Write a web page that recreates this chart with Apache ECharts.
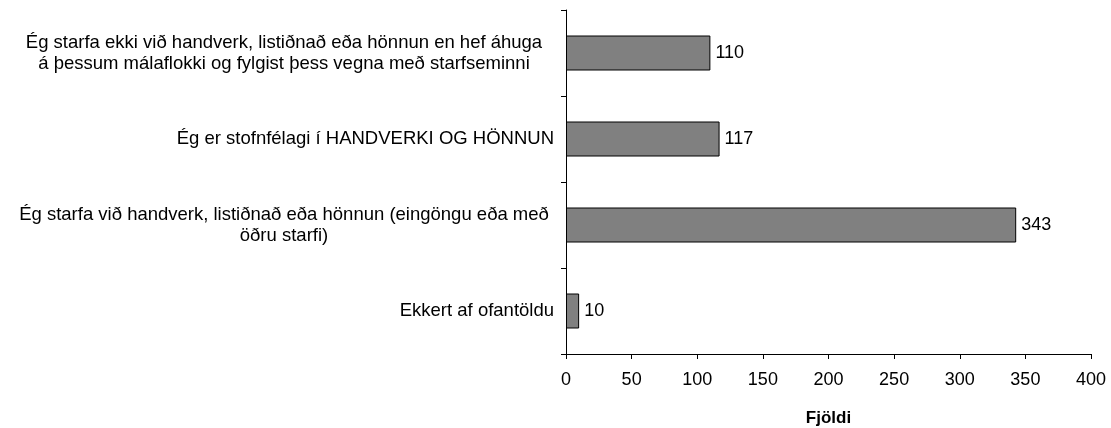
<!DOCTYPE html>
<html>
<head>
<meta charset="utf-8">
<script src="https://cdn.jsdelivr.net/npm/echarts@6/dist/echarts.min.js"></script>
<style>
  html, body { margin: 0; padding: 0; background: #fff; }
  #chart { width: 1111px; height: 428px; }
</style>
</head>
<body>
<div id="chart"></div>
<script>
// flokkar, efst til neðst
const categories = [
  'Ég starfa ekki við handverk, listiðnað eða hönnun en hef áhuga\ná þessum málaflokki og fylgist þess vegna með starfseminni',
  'Ég er stofnfélagi í HANDVERKI OG HÖNNUN',
  'Ég starfa við handverk, listiðnað eða hönnun (eingöngu eða með\nöðru starfi)',
  'Ekkert af ofantöldu'
];
const values = [110, 117, 343, 10];
const xTicks = { min: 0, max: 400, interval: 50 };

const font = 'Liberation Sans, Arial, sans-serif';
const chart = echarts.init(document.getElementById('chart'));

chart.setOption({
  animation: false,
  grid: { left: 566, right: 20, top: 10, bottom: 74, containLabel: false, outerBoundsMode: 'none' },
  xAxis: {
    type: 'value',
    min: xTicks.min,
    max: xTicks.max,
    interval: xTicks.interval,
    name: 'Fjöldi',
    nameLocation: 'middle',
    nameGap: 56,
    nameTextStyle: { fontFamily: font, fontSize: 17, fontWeight: 'bold', color: '#000' },
    axisLine: { show: true, lineStyle: { color: '#000', width: 1 } },
    axisTick: { show: true, length: 5, lineStyle: { color: '#000' } },
    axisLabel: { fontFamily: font, fontSize: 18, color: '#000', margin: 17 },
    splitLine: { show: false }
  },
  yAxis: {
    type: 'category',
    inverse: true,
    data: categories,
    axisLine: { show: true, lineStyle: { color: '#000', width: 1 } },
    axisTick: { show: true, length: 5, lineStyle: { color: '#000' } },
    axisLabel: {
      fontFamily: font,
      fontSize: 18.5,
      color: '#000',
      margin: 12,
      lineHeight: 21,
      formatter: function (val) {
        return val.indexOf('\n') >= 0 ? '{m|' + val + '}' : val;
      },
      rich: {
        m: { width: 540, align: 'center', fontFamily: font, fontSize: 18.5, lineHeight: 21, color: '#000' }
      }
    }
  },
  series: [{
    type: 'bar',
    data: values,
    barWidth: 35,
    itemStyle: { color: '#808080', borderColor: '#000', borderWidth: 1 },
    label: {
      show: true,
      position: 'right',
      distance: 5,
      fontFamily: font,
      fontSize: 18,
      color: '#000'
    }
  }]
});
</script>
</body>
</html>
